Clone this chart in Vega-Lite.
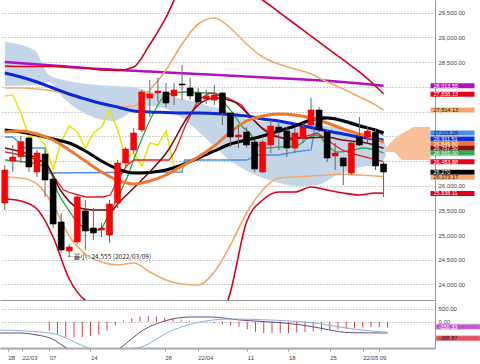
{
"$schema": "https://vega.github.io/schema/vega-lite/v6.json",
"padding": 0,
"background": "white",
"spacing": 0,
"bounds": "flush",
"config": {"view": {"stroke": null}, "font": "Liberation Sans", "axis": {"labelFont": "Liberation Sans", "labelFontSize": 6, "labelColor": "#444"}},
"datasets": {
"candles": [
{"i":-1,"o":25648,"h":26417,"l":25507,"c":26316},
{"i":0,"o":26498,"h":26822,"l":26276,"c":26579},
{"i":1,"o":26585,"h":27004,"l":26458,"c":26889},
{"i":2,"o":26964,"h":26984,"l":26276,"c":26377},
{"i":3,"o":26276,"h":26721,"l":26175,"c":26660},
{"i":4,"o":26640,"h":26721,"l":25770,"c":26114},
{"i":5,"o":26134,"h":26175,"l":25142,"c":25223},
{"i":6,"o":25264,"h":25446,"l":24636,"c":24697},
{"i":7,"o":24677,"h":24818,"l":24555,"c":24758},
{"i":8,"o":24859,"h":25810,"l":24818,"c":25770},
{"i":9,"o":25486,"h":25709,"l":24697,"c":25082},
{"i":10,"o":25142,"h":25547,"l":24899,"c":25041},
{"i":11,"o":25102,"h":25243,"l":24960,"c":25142},
{"i":12,"o":25001,"h":25709,"l":24839,"c":25628},
{"i":13,"o":25648,"h":26519,"l":25547,"c":26458},
{"i":14,"o":26458,"h":26782,"l":26377,"c":26741},
{"i":15,"o":26721,"h":27166,"l":26660,"c":27065},
{"i":16,"o":27126,"h":27935,"l":27085,"c":27895},
{"i":17,"o":27773,"h":28138,"l":27389,"c":27854},
{"i":18,"o":27875,"h":28178,"l":27693,"c":27915},
{"i":19,"o":27895,"h":28077,"l":27591,"c":27672},
{"i":20,"o":27814,"h":28077,"l":27632,"c":27935},
{"i":21,"o":28057,"h":28441,"l":27733,"c":28037},
{"i":22,"o":27976,"h":28178,"l":27733,"c":27814},
{"i":23,"o":27875,"h":27976,"l":27632,"c":27693},
{"i":24,"o":27753,"h":27935,"l":27652,"c":27814},
{"i":25,"o":27733,"h":28037,"l":27632,"c":27834},
{"i":26,"o":27875,"h":27895,"l":27227,"c":27470},
{"i":27,"o":27470,"h":27470,"l":26782,"c":26984},
{"i":28,"o":26984,"h":27227,"l":26761,"c":27025},
{"i":29,"o":27085,"h":27187,"l":26761,"c":26822},
{"i":30,"o":26883,"h":26923,"l":26276,"c":26336},
{"i":31,"o":26276,"h":26923,"l":26255,"c":26883},
{"i":32,"o":26822,"h":27328,"l":26660,"c":27207},
{"i":33,"o":27187,"h":27267,"l":26721,"c":27085},
{"i":34,"o":27106,"h":27187,"l":26579,"c":26761},
{"i":35,"o":26761,"h":27166,"l":26660,"c":27065},
{"i":36,"o":26964,"h":27267,"l":26863,"c":27187},
{"i":37,"o":27227,"h":27773,"l":27187,"c":27531},
{"i":38,"o":27531,"h":27591,"l":27085,"c":27126},
{"i":39,"o":27085,"h":27126,"l":26478,"c":26559},
{"i":40,"o":26600,"h":26863,"l":26316,"c":26660},
{"i":41,"o":26559,"h":26579,"l":26013,"c":26397},
{"i":42,"o":26255,"h":26923,"l":26215,"c":26863},
{"i":43,"o":26984,"h":27389,"l":26800,"c":26822},
{"i":44,"o":26984,"h":27187,"l":26863,"c":27106},
{"i":45,"o":27085,"h":27166,"l":26316,"c":26397},
{"i":46,"o":26438,"h":26478,"l":25770,"c":26276}
],
"cloud": [
{"i":-0.97,"a":28907,"b":28016},{"i":2.67,"a":28745,"b":28037},{"i":4.5,"a":28239,"b":28097},{"i":6.3,"a":28138,"b":27773},{"i":9.3,"a":28057,"b":27429},{"i":12.4,"a":28016,"b":27308},{"i":14.8,"a":27996,"b":27490},{"i":17.2,"a":27895,"b":27612},{"i":19.9,"a":27794,"b":27490},{"i":22.1,"a":27713,"b":27227},{"i":23.9,"a":27632,"b":26964},{"i":26.9,"a":27490,"b":26519},{"i":29.3,"a":27328,"b":26276},{"i":31.8,"a":27288,"b":26114},{"i":35.4,"a":27267,"b":25992},{"i":37.8,"a":27227,"b":26013},{"i":40.2,"a":27166,"b":26215},{"i":42.7,"a":27085,"b":26357},{"i":45.7,"a":26964,"b":26458},{"i":46.3,"a":26822,"b":26620}
],
"cloud2": [
{"i":46.3,"a":26761,"b":26681},{"i":47.2,"a":26923,"b":26681},{"i":48.4,"a":27065,"b":26519},{"i":49.1,"a":27126,"b":26519},{"i":49.9,"a":27187,"b":26519},{"i":51.8,"a":27187,"b":26519}
],
"ma200": [{"i":-1,"v":28502},{"i":5,"v":28431},{"i":11,"v":28360},{"i":17,"v":28310},{"i":23,"v":28259},{"i":29,"v":28209},{"i":35,"v":28158},{"i":41,"v":28097},{"i":46,"v":28020}],
"ma75": [{"i":-1,"v":28279},{"i":1,"v":28199},{"i":3,"v":28097},{"i":5,"v":27976},{"i":7,"v":27854},{"i":9,"v":27753},{"i":11,"v":27662},{"i":13,"v":27591},{"i":15,"v":27510},{"i":17,"v":27490},{"i":19,"v":27480},{"i":21,"v":27470},{"i":23,"v":27470},{"i":25,"v":27460},{"i":27,"v":27440},{"i":29,"v":27409},{"i":31,"v":27348},{"i":33,"v":27308},{"i":35,"v":27247},{"i":37,"v":27176},{"i":39,"v":27106},{"i":41,"v":27045},{"i":43,"v":26984},{"i":45,"v":26944},{"i":46,"v":26923}],
"ma25": [{"i":-1,"v":27126},{"i":1,"v":27085},{"i":3,"v":27025},{"i":5,"v":26944},{"i":7,"v":26863},{"i":9,"v":26701},{"i":11,"v":26498},{"i":13,"v":26336},{"i":15,"v":26255},{"i":17,"v":26266},{"i":19,"v":26316},{"i":21,"v":26417},{"i":23,"v":26559},{"i":25,"v":26701},{"i":27,"v":26842},{"i":29,"v":26923},{"i":31,"v":27004},{"i":33,"v":27106},{"i":35,"v":27207},{"i":37,"v":27328},{"i":39,"v":27369},{"i":41,"v":27308},{"i":43,"v":27207},{"i":45,"v":27126},{"i":46,"v":27065}],
"mid": [{"i":-1,"v":27085},{"i":1,"v":27106},{"i":3,"v":27045},{"i":5,"v":26923},{"i":7,"v":26721},{"i":9,"v":26498},{"i":11,"v":26276},{"i":13,"v":26114},{"i":15,"v":26033},{"i":17,"v":26094},{"i":19,"v":26215},{"i":21,"v":26397},{"i":23,"v":26579},{"i":25,"v":26802},{"i":27,"v":27085},{"i":29,"v":27308},{"i":31,"v":27409},{"i":33,"v":27450},{"i":35,"v":27429},{"i":37,"v":27369},{"i":39,"v":27267},{"i":41,"v":27146},{"i":43,"v":27045},{"i":45,"v":26944},{"i":46,"v":26883}],
"bbu2": [{"i":-1,"v":27976},{"i":1,"v":27976},{"i":3,"v":27956},{"i":5,"v":27915},{"i":7,"v":27834},{"i":9,"v":27753},{"i":11,"v":27652},{"i":13,"v":27591},{"i":15,"v":27612},{"i":17,"v":27935},{"i":19,"v":28340},{"i":21,"v":28866},{"i":23,"v":29271},{"i":25,"v":29393},{"i":27,"v":29190},{"i":29,"v":28866},{"i":31,"v":28603},{"i":33,"v":28462},{"i":35,"v":28360},{"i":37,"v":28259},{"i":39,"v":28097},{"i":41,"v":27956},{"i":43,"v":27794},{"i":45,"v":27632},{"i":46,"v":27531}],
"bbl2": [{"i":-1,"v":26175},{"i":1,"v":26154},{"i":3,"v":26033},{"i":5,"v":25608},{"i":7,"v":24980},{"i":9,"v":24616},{"i":11,"v":24454},{"i":13,"v":24393},{"i":15,"v":24434},{"i":17,"v":24252},{"i":19,"v":24090},{"i":21,"v":24009},{"i":23,"v":23989},{"i":25,"v":24252},{"i":27,"v":24798},{"i":29,"v":25446},{"i":31,"v":25911},{"i":33,"v":26154},{"i":35,"v":26175},{"i":37,"v":26195},{"i":39,"v":26215},{"i":41,"v":26235},{"i":43,"v":26215},{"i":45,"v":26195},{"i":46,"v":26185}],
"bbu3": [{"i":-1,"v":28421},{"i":1,"v":28411},{"i":3,"v":28411},{"i":5,"v":28411},{"i":7,"v":28391},{"i":9,"v":28381},{"i":11,"v":28340},{"i":13,"v":28330},{"i":15,"v":28401},{"i":17,"v":28856},{"i":19,"v":29403},{"i":21,"v":30101},{"i":23,"v":30607},{"i":25,"v":30688},{"i":27,"v":30243},{"i":29,"v":29959},{"i":31,"v":29757},{"i":33,"v":29514},{"i":35,"v":29271},{"i":37,"v":29028},{"i":39,"v":28785},{"i":41,"v":28543},{"i":43,"v":28300},{"i":45,"v":28016},{"i":46,"v":27854}],
"bbl3": [{"i":-1,"v":25729},{"i":1,"v":25689},{"i":3,"v":25527},{"i":5,"v":24960},{"i":7,"v":24110},{"i":9,"v":23675},{"i":11,"v":23543},{"i":13,"v":23523},{"i":15,"v":23564},{"i":17,"v":23321},{"i":19,"v":23017},{"i":21,"v":22815},{"i":23,"v":22693},{"i":25,"v":22977},{"i":27,"v":23847},{"i":29,"v":25264},{"i":31,"v":25709},{"i":33,"v":25871},{"i":35,"v":25871},{"i":37,"v":25972},{"i":39,"v":25911},{"i":41,"v":25851},{"i":43,"v":25810},{"i":45,"v":25851},{"i":46,"v":25845}],
"kijun": [{"i":-1,"v":26984},{"i":0,"v":26984},{"i":1.5,"v":26761},{"i":4,"v":26761},{"i":4.3,"v":26255},{"i":21,"v":26276},{"i":21.3,"v":26519},{"i":29,"v":26519},{"i":30.5,"v":26620},{"i":33,"v":26620},{"i":35,"v":26681},{"i":37,"v":26721},{"i":37.5,"v":27187},{"i":38,"v":27409},{"i":40,"v":27369},{"i":42,"v":27288},{"i":44,"v":27187},{"i":46,"v":27015}],
"green": [{"i":-0.97,"v":26519},{"i":1.45,"v":26478},{"i":3.5,"v":26417},{"i":4.7,"v":26255},{"i":5.45,"v":25911},{"i":6.67,"v":25567},{"i":7.5,"v":25365},{"i":9.6,"v":25102},{"i":10.8,"v":25102},{"i":11.75,"v":25365},{"i":14.2,"v":26175},{"i":15.8,"v":26863},{"i":17.45,"v":27470},{"i":18.7,"v":27794},{"i":19.9,"v":27875},{"i":21.45,"v":27895},{"i":23.9,"v":27875},{"i":25.1,"v":27875},{"i":25.7,"v":27814},{"i":26.3,"v":27672},{"i":27.3,"v":27470},{"i":28.5,"v":27187},{"i":29.3,"v":27085},{"i":30.2,"v":26863},{"i":31.4,"v":26761},{"i":33.3,"v":26782},{"i":35.4,"v":26822},{"i":36.6,"v":26964},{"i":37.8,"v":27025},{"i":38.7,"v":26883},{"i":40.2,"v":26681},{"i":42.3,"v":26721},{"i":43.5,"v":26761},{"i":46,"v":26665}],
"tenkan": [{"i":-0.97,"v":26681},{"i":1,"v":26620},{"i":3,"v":26519},{"i":4.2,"v":26458},{"i":5.1,"v":26175},{"i":6.3,"v":25911},{"i":7.2,"v":25851},{"i":9.1,"v":25770},{"i":11.15,"v":25770},{"i":12.1,"v":25810},{"i":13,"v":26114},{"i":14.2,"v":26417},{"i":15,"v":26519},{"i":19.4,"v":26519},{"i":20.2,"v":26721},{"i":21.45,"v":27227},{"i":23,"v":27733},{"i":24.5,"v":27875},{"i":26.7,"v":27773},{"i":28.4,"v":27632},{"i":29.6,"v":27369},{"i":30.8,"v":27187},{"i":32.4,"v":27025},{"i":34.2,"v":26923},{"i":36,"v":26984},{"i":37.8,"v":27065},{"i":39,"v":26923},{"i":40.85,"v":26721},{"i":42.7,"v":26620},{"i":46,"v":26484}],
"maroon": [{"i":-0.97,"v":26761},{"i":4.2,"v":26417},{"i":5.9,"v":25911},{"i":7.9,"v":25567},{"i":9.9,"v":25507},{"i":12.4,"v":25507},{"i":12.7,"v":25567},{"i":16,"v":26114},{"i":19.3,"v":26721},{"i":21.7,"v":27389},{"i":23.3,"v":27672},{"i":25.1,"v":27773},{"i":27.5,"v":27693},{"i":29.3,"v":27429},{"i":31.15,"v":27126},{"i":33.6,"v":26964},{"i":36.4,"v":26964},{"i":39,"v":26984},{"i":40.85,"v":26923},{"i":43.9,"v":26863},{"i":46,"v":26755}],
"chikou": [{"i":-1,"v":27814},{"i":0,"v":27834},{"i":1,"v":27470},{"i":2,"v":26984},{"i":3,"v":27025},{"i":4,"v":26822},{"i":5,"v":26336},{"i":6,"v":26883},{"i":7,"v":27207},{"i":8,"v":27085},{"i":9,"v":26761},{"i":10,"v":27065},{"i":11,"v":27187},{"i":12,"v":27531},{"i":13,"v":27126},{"i":14,"v":26559},{"i":15,"v":26660},{"i":16,"v":26397},{"i":17,"v":26863},{"i":18,"v":26822},{"i":19,"v":27106},{"i":20,"v":26397},{"i":21,"v":26276}],
"tags": [
{"s":"ma200","v":28020,"t":"28,013.55"},
{"s":"bbu3","v":27850,"t":"27,838.13"},
{"s":"bbu2","v":27531,"t":"27,514.13"},
{"s":"kijun","v":27065,"t":"27,015.28"},
{"s":"ma75","v":26944,"t":"26,911.51"},
{"s":"mid","v":26849,"t":"26,849.80"},
{"s":"maroon","v":26755,"t":"26,757.50"},
{"s":"green","v":26660,"t":"26,665.00"},
{"s":"tenkan","v":26482,"t":"26,483.88"},
{"s":"close","v":26272,"t":"26,270"},
{"s":"bbl2","v":26170,"t":"26,173.17"},
{"s":"bbl3","v":25841,"t":"25,838.11"}
],
"minlab": [{"i":7,"v":24555,"t":"─最小 : 24,555 (2022/03/09)"}],
"macd": [{"i":-0.97,"v":-445},{"i":1.45,"v":-445},{"i":3.5,"v":-524},{"i":5.1,"v":-642},{"i":7.5,"v":-1114},{"i":11.15,"v":-1508},{"i":13.6,"v":-1035},{"i":16.4,"v":-327},{"i":19,"v":28},{"i":22.1,"v":185},{"i":24.5,"v":185},{"i":28.1,"v":67},{"i":31.8,"v":-12},{"i":35.4,"v":-120},{"i":37.8,"v":-250},{"i":39,"v":-327},{"i":41.4,"v":-430},{"i":46,"v":-445}],
"signal": [{"i":-0.97,"v":-327},{"i":5.1,"v":-445},{"i":11.15,"v":-1114},{"i":15.6,"v":-1035},{"i":20,"v":-327},{"i":23.3,"v":-12},{"i":26.9,"v":106},{"i":31.8,"v":67},{"i":35.4,"v":0},{"i":37.8,"v":-80},{"i":40,"v":-200},{"i":43,"v":-330},{"i":46,"v":-420}],
"hist": [{"i":5,"h":-350},{"i":6,"h":-500},{"i":7,"h":-600},{"i":8,"h":-620},{"i":9,"h":-600},{"i":10,"h":-560},{"i":11,"h":-500},{"i":12,"h":-350},{"i":13,"h":-150},{"i":14,"h":50},{"i":15,"h":150},{"i":16,"h":200},{"i":17,"h":220},{"i":18,"h":200},{"i":19,"h":160},{"i":20,"h":120},{"i":21,"h":80},{"i":22,"h":40},{"i":24,"h":-30},{"i":25,"h":-60},{"i":26,"h":-100},{"i":27,"h":-150},{"i":28,"h":-200},{"i":29,"h":-300},{"i":30,"h":-400},{"i":31,"h":-450},{"i":32,"h":-450},{"i":33,"h":-450},{"i":34,"h":-450},{"i":35,"h":-420},{"i":36,"h":-400},{"i":37,"h":-380},{"i":38,"h":-350},{"i":39,"h":-320},{"i":40,"h":-300},{"i":41,"h":-280},{"i":42,"h":-250},{"i":43,"h":-230},{"i":44,"h":-220},{"i":45,"h":-220},{"i":46,"h":-240}],
"mtags": [{"s":"m","v":-195,"t":"-150.33"},{"s":"g","v":-655,"t":"-388.87"}]
},
"vconcat": [
{
"width": 435, "height": 300,
"layer": [
{
"encoding": {
 "x": {"field":"i","type":"quantitative","scale":{"domain":[-0.97,51.76],"nice":false,"zero":false},"axis":{"labels":false,"ticks":false,"grid":false,"domainColor":"#999","title":null}},
 "y": {"field":"v","type":"quantitative","scale":{"domain":[23685,29757],"nice":false,"zero":false},"axis":{"orient":"right","values":[24000,24500,25000,25500,26000,26500,27000,27500,28000,28500,29000,29500],"labelExpr":"indexof([26500,27000,27500,28000], datum.value) >= 0 ? '' : format(datum.value, ',.2f')","grid":true,"gridDash":[1,2],"gridColor":"#9a9a9a","ticks":false,"domainColor":"#999","labelPadding":3,"labelBaseline":"middle","title":null}}
},
"layer": [
{"data":{"name":"cloud"},"mark":{"type":"area","color":"#c5d5e8","clip":true,"interpolate":"monotone"},
 "encoding":{"y":{"field":"a"},"y2":{"field":"b"}}},
{"data":{"name":"cloud2"},"mark":{"type":"area","color":"#f9bf9b","clip":true,"interpolate":"monotone"},
 "encoding":{"y":{"field":"a"},"y2":{"field":"b"}}},
{"data":{"name":"ma200"},"mark":{"type":"line","color":"#b010c0","strokeWidth":2.5,"interpolate":"monotone","clip":true}},
{"data":{"name":"bbu3"},"mark":{"type":"line","color":"#d8001c","strokeWidth":1.6,"interpolate":"monotone","clip":true}},
{"data":{"name":"bbl3"},"mark":{"type":"line","color":"#d8001c","strokeWidth":1.6,"interpolate":"monotone","clip":true}},
{"data":{"name":"bbu2"},"mark":{"type":"line","color":"#f3a868","strokeWidth":1.6,"interpolate":"monotone","clip":true}},
{"data":{"name":"bbl2"},"mark":{"type":"line","color":"#f3a868","strokeWidth":1.6,"interpolate":"monotone","clip":true}},
{"data":{"name":"chikou"},"mark":{"type":"line","color":"#e6e600","strokeWidth":1.5,"clip":true}},
{"data":{"name":"kijun"},"mark":{"type":"line","color":"#4a8fe0","strokeWidth":1.3,"clip":true}},
{"data":{"name":"green"},"mark":{"type":"line","color":"#22aa44","strokeWidth":1.3,"interpolate":"monotone","clip":true}},
{"data":{"name":"tenkan"},"mark":{"type":"line","color":"#e02020","strokeWidth":1.3,"clip":true}},
{"data":{"name":"maroon"},"mark":{"type":"line","color":"#7a0a0a","strokeWidth":1.5,"interpolate":"monotone","clip":true}},
{"data":{"name":"ma75"},"mark":{"type":"line","color":"#0a28d8","strokeWidth":3,"interpolate":"monotone","clip":true}},
{"data":{"name":"ma25"},"mark":{"type":"line","color":"#000000","strokeWidth":3,"interpolate":"monotone","clip":true}},
{"data":{"name":"mid"},"mark":{"type":"line","color":"#f07830","strokeWidth":3,"interpolate":"monotone","clip":true}},
{"data":{"name":"candles"},"mark":{"type":"rule","color":"#666","strokeWidth":1,"clip":true},
 "encoding":{"y":{"field":"l"},"y2":{"field":"h"}}},
{"data":{"name":"candles"},"mark":{"type":"bar","width":6,"strokeWidth":0.6,"clip":true},
 "encoding":{"y":{"field":"o"},"y2":{"field":"c"},
 "color":{"condition":{"test":"datum.c >= datum.o","value":"#ff0000"},"value":"#000000"},
 "stroke":{"condition":{"test":"datum.c >= datum.o","value":"#ee0000"},"value":"#000000"}}},
{"data":{"name":"minlab"},"mark":{"type":"text","align":"left","baseline":"middle","dx":-2,"fontSize":6.5,"font":"Noto Sans CJK JP","color":"#222"},
 "encoding":{"text":{"field":"t"}}}
]
},
{"data":{"name":"tags"},"mark":{"type":"tick","orient":"horizontal","thickness":5,"opacity":1},
 "encoding":{"x":{"datum":54.55,"type":"quantitative","scale":{"domain":[-0.97,51.76],"nice":false,"zero":false},"axis":{"labels":false,"ticks":false,"grid":false,"domainColor":"#999","title":null}},
 "y":{"field":"v","type":"quantitative","scale":{"domain":[23685,29757],"nice":false,"zero":false},"axis":{"orient":"right","values":[24000,24500,25000,25500,26000,26500,27000,27500,28000,28500,29000,29500],"labelExpr":"indexof([26500,27000,27500,28000], datum.value) >= 0 ? '' : format(datum.value, ',.2f')","grid":true,"gridDash":[1,2],"gridColor":"#9a9a9a","ticks":false,"domainColor":"#999","labelPadding":3,"labelBaseline":"middle","title":null}},
 "size":{"value":44},
 "color":{"field":"s","type":"nominal","legend":null,"scale":{"domain":["ma200","bbu3","bbu2","kijun","ma75","mid","maroon","green","tenkan","close","bbl2","bbl3"],"range":["#b010c0","#e0001c","#f6a86a","#4a8fe0","#1030d8","#f07830","#8a1010","#30b050","#e8001c","#000000","#f6a86a","#e0001c"]}}}},
{"data":{"name":"tags"},"mark":{"type":"text","align":"left","baseline":"middle","fontSize":5.5},
 "encoding":{"x":{"datum":52.2,"type":"quantitative","scale":{"domain":[-0.97,51.76],"nice":false,"zero":false},"axis":{"labels":false,"ticks":false,"grid":false,"domainColor":"#999","title":null}},
 "y":{"field":"v","type":"quantitative","scale":{"domain":[23685,29757],"nice":false,"zero":false},"axis":{"orient":"right","values":[24000,24500,25000,25500,26000,26500,27000,27500,28000,28500,29000,29500],"labelExpr":"indexof([26500,27000,27500,28000], datum.value) >= 0 ? '' : format(datum.value, ',.2f')","grid":true,"gridDash":[1,2],"gridColor":"#9a9a9a","ticks":false,"domainColor":"#999","labelPadding":3,"labelBaseline":"middle","title":null}},
 "text":{"field":"t"},
 "color":{"condition":{"test":"indexof(['bbu2','kijun','bbl2'], datum.s) >= 0","value":"#222"},"value":"#ffffff"}}}
]
},
{
"width": 435, "height": 48,
"layer": [
{
"encoding": {
 "x": {"field":"i","type":"quantitative","scale":{"domain":[-0.97,51.76],"nice":false,"zero":false},"axis":{"orient":"bottom","values":[0,1.7,5,10,19,23,29,34,39,43,45],"labelExpr":"datum.value==0?'28':datum.value<2?'22/03':datum.value==5?'07':datum.value==10?'14':datum.value==19?'28':datum.value==23?'22/04':datum.value==29?'11':datum.value==34?'18':datum.value==39?'25':datum.value==43?'22/05':'09'","labelAlign":"left","labelFlush":false,"labelOverlap":false,"ticks":true,"tickSize":3,"tickColor":"#999","domainColor":"#aaa","domainWidth":2,"grid":false,"labelPadding":3,"title":null}},
 "y": {"field":"v","type":"quantitative","scale":{"domain":[-1035,854],"nice":false,"zero":false},"axis":{"orient":"right","values":[500,0],"format":",.2f","grid":true,"gridDash":[1,2],"gridColor":"#9a9a9a","ticks":false,"domainColor":"#999","labelPadding":3,"labelBaseline":"middle","title":null}}
},
"layer": [
{"data":{"name":"hist"},"mark":{"type":"rule","color":"#e04050","strokeWidth":1,"clip":true},
 "encoding":{"y":{"field":"h"},"y2":{"datum":0}}},
{"data":{"name":"macd"},"mark":{"type":"line","color":"#6a4a7a","strokeWidth":1,"clip":true,"interpolate":"monotone"}},
{"data":{"name":"signal"},"mark":{"type":"line","color":"#8ab0e0","strokeWidth":1,"clip":true,"interpolate":"monotone"}}
]
},
{"data":{"name":"mtags"},"mark":{"type":"tick","orient":"horizontal","thickness":5,"stroke":"#999","strokeWidth":0.5},
 "encoding":{"x":{"datum":54.55,"type":"quantitative","scale":{"domain":[-0.97,51.76],"nice":false,"zero":false},"axis":{"orient":"bottom","values":[0,1.7,5,10,19,23,29,34,39,43,45],"labelExpr":"datum.value==0?'28':datum.value<2?'22/03':datum.value==5?'07':datum.value==10?'14':datum.value==19?'28':datum.value==23?'22/04':datum.value==29?'11':datum.value==34?'18':datum.value==39?'25':datum.value==43?'22/05':'09'","labelAlign":"left","labelFlush":false,"labelOverlap":false,"ticks":true,"tickSize":3,"tickColor":"#999","domainColor":"#aaa","domainWidth":2,"grid":false,"labelPadding":3,"title":null}},
 "y":{"field":"v","type":"quantitative","scale":{"domain":[-1035,854],"nice":false,"zero":false},"axis":{"orient":"right","values":[500,0],"format":",.2f","grid":true,"gridDash":[1,2],"gridColor":"#9a9a9a","ticks":false,"domainColor":"#999","labelPadding":3,"labelBaseline":"middle","title":null}},
 "size":{"value":44},
 "color":{"field":"s","type":"nominal","legend":null,"scale":{"domain":["m","g"],"range":["#e8001c","#ffffff"]}}}},
{"data":{"name":"mtags"},"mark":{"type":"text","align":"left","baseline":"middle","fontSize":5.5},
 "encoding":{"x":{"datum":52.2,"type":"quantitative","scale":{"domain":[-0.97,51.76],"nice":false,"zero":false},"axis":{"orient":"bottom","values":[0,1.7,5,10,19,23,29,34,39,43,45],"labelExpr":"datum.value==0?'28':datum.value<2?'22/03':datum.value==5?'07':datum.value==10?'14':datum.value==19?'28':datum.value==23?'22/04':datum.value==29?'11':datum.value==34?'18':datum.value==39?'25':datum.value==43?'22/05':'09'","labelAlign":"left","labelFlush":false,"labelOverlap":false,"ticks":true,"tickSize":3,"tickColor":"#999","domainColor":"#aaa","domainWidth":2,"grid":false,"labelPadding":3,"title":null}},
 "y":{"field":"v","type":"quantitative","scale":{"domain":[-1035,854],"nice":false,"zero":false},"axis":{"orient":"right","values":[500,0],"format":",.2f","grid":true,"gridDash":[1,2],"gridColor":"#9a9a9a","ticks":false,"domainColor":"#999","labelPadding":3,"labelBaseline":"middle","title":null}},
 "text":{"field":"t"},
 "color":{"condition":{"test":"datum.s == 'g'","value":"#222"},"value":"#ffffff"}}}
]
}
]
}
